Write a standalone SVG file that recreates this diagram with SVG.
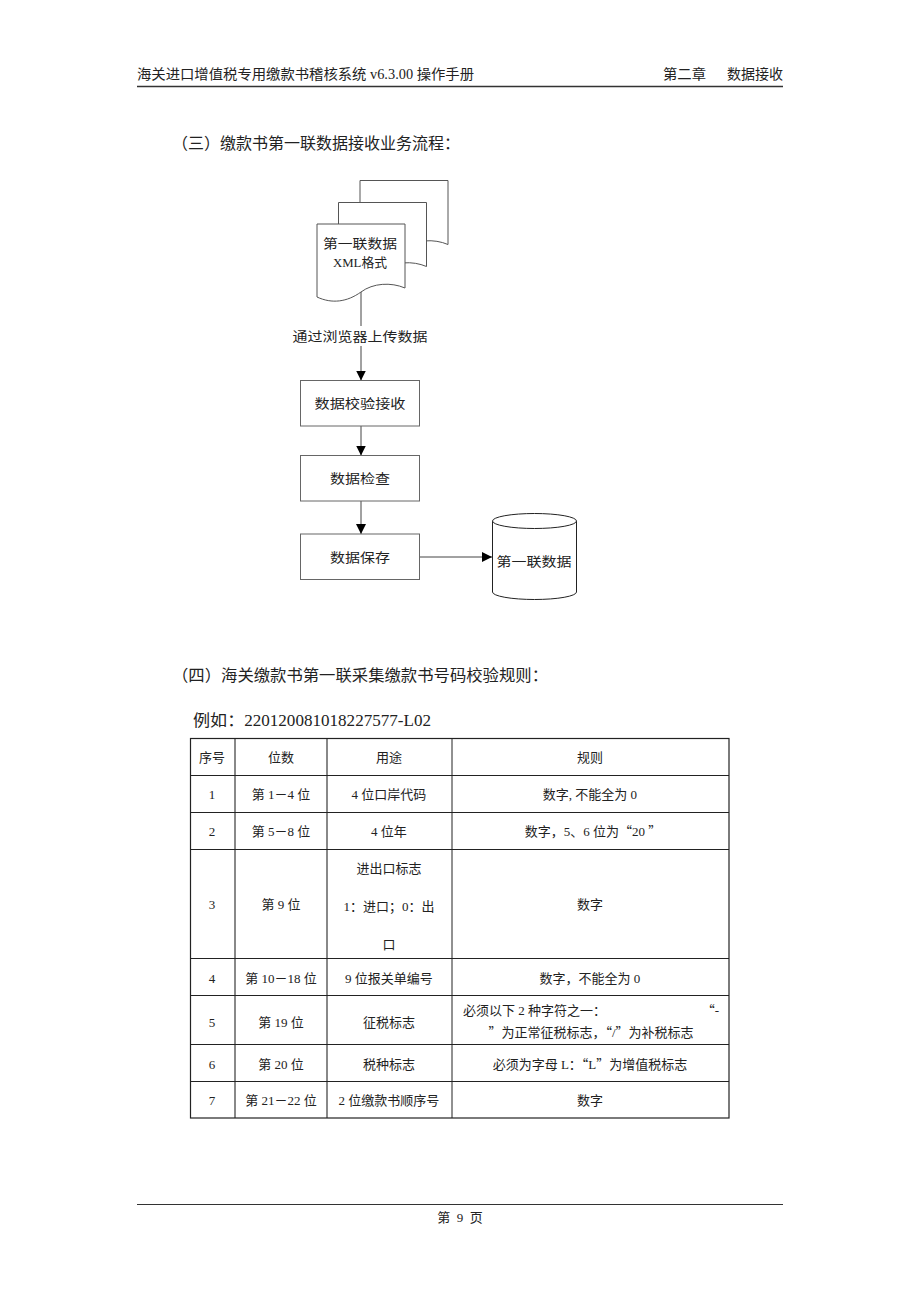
<svg xmlns="http://www.w3.org/2000/svg" width="920" height="1302" viewBox="0 0 920 1302">
<style>
text{font-family:"Liberation Serif","Noto Sans CJK SC",serif;fill:#222}
.q{font-family:"Noto Sans CJK SC",sans-serif}
.hd{font-size:14px}
.ti{font-size:16px}
.fl{font-size:13px;text-anchor:middle}
.tb{font-size:13px;text-anchor:middle}
.box{fill:#fff;stroke:#666;stroke-width:1}
.doc{fill:#fff;stroke:#555;stroke-width:1}
.ln{stroke:#444;stroke-width:1;fill:none}
.row{stroke:#222;stroke-width:1}
.col{stroke:#888;stroke-width:2}
</style>
<defs>
<marker id="ah" viewBox="0 0 10 10" refX="10" refY="5" markerWidth="10" markerHeight="10" markerUnits="userSpaceOnUse" orient="auto">
<path d="M0,0 L10,5 L0,10 Z" fill="#000"/>
</marker>
<path id="docshape" d="M0,0 H88 V64 C74,58 56,59 44,68 C30,78 15,80 0,73 Z"/>
</defs>

<g id="header">
<text class="hd" x="137" y="79" textLength="337" lengthAdjust="spacingAndGlyphs">海关进口增值税专用缴款书稽核系统 v6.3.00 操作手册</text>
<text class="hd" x="663" y="79" textLength="43" lengthAdjust="spacingAndGlyphs">第二章</text>
<text class="hd" x="727" y="79" textLength="56" lengthAdjust="spacingAndGlyphs">数据接收</text>
<line x1="137" y1="86.5" x2="783" y2="86.5" stroke="#333" stroke-width="1.5"/>
</g>

<text id="title3" class="ti" x="172" y="149" textLength="288" lengthAdjust="spacingAndGlyphs">（三）缴款书第一联数据接收业务流程：</text>

<g id="connectors">
<line class="ln" x1="361" y1="291" x2="361" y2="380.5" marker-end="url(#ah)"/>
<line class="ln" x1="361" y1="426" x2="361" y2="455.5" marker-end="url(#ah)"/>
<line class="ln" x1="361" y1="501" x2="361" y2="534" marker-end="url(#ah)"/>
<line class="ln" x1="419.5" y1="557" x2="492" y2="557" marker-end="url(#ah)"/>
<rect x="290" y="326" width="140" height="20" fill="#fff"/>
<text class="fl" x="360" y="341" textLength="135" lengthAdjust="spacingAndGlyphs">通过浏览器上传数据</text>
</g>

<g id="doc-stack">
<use href="#docshape" class="doc" transform="translate(360,180.5)"/>
<use href="#docshape" class="doc" transform="translate(338.5,202.5)"/>
<use href="#docshape" class="doc" transform="translate(317,224)"/>
<text class="fl" x="360" y="248" textLength="74" lengthAdjust="spacingAndGlyphs">第一联数据</text>
<text class="fl" x="360" y="267" textLength="54" lengthAdjust="spacingAndGlyphs">XML格式</text>
</g>

<g id="box-verify">
<rect class="box" x="300.5" y="380.5" width="119" height="45.5"/>
<text class="fl" x="360" y="408" textLength="91" lengthAdjust="spacingAndGlyphs">数据校验接收</text>
</g>
<g id="box-check">
<rect class="box" x="300.5" y="455.5" width="119" height="45.5"/>
<text class="fl" x="360" y="483" textLength="60" lengthAdjust="spacingAndGlyphs">数据检查</text>
</g>
<g id="box-save">
<rect class="box" x="300.5" y="534" width="119" height="45.5"/>
<text class="fl" x="360" y="562" textLength="60" lengthAdjust="spacingAndGlyphs">数据保存</text>
</g>
<g id="db">
<path d="M492.5,521 V592 A42,7.5 0 0 0 576.5,592 V521" fill="#fff" stroke="#222" stroke-width="1"/>
<ellipse cx="534.5" cy="521" rx="42" ry="7.5" fill="#fff" stroke="#222" stroke-width="1"/>
<text class="fl" x="534" y="566" textLength="75" lengthAdjust="spacingAndGlyphs">第一联数据</text>
</g>

<text id="title4" class="ti" x="172" y="681" textLength="376" lengthAdjust="spacingAndGlyphs">（四）海关缴款书第一联采集缴款书号码校验规则：</text>
<text id="example" class="ti" x="193" y="726" textLength="238" lengthAdjust="spacingAndGlyphs">例如：220120081018227577-L02</text>

<g id="table">
<line class="col" x1="235" y1="738" x2="235" y2="1118"/>
<line class="col" x1="327" y1="738" x2="327" y2="1118"/>
<line class="row" x1="452" y1="738" x2="452" y2="1118"/>
<line class="row" x1="190" y1="775.5" x2="729" y2="775.5"/>
<line class="row" x1="190" y1="812.5" x2="729" y2="812.5"/>
<line class="row" x1="190" y1="849.5" x2="729" y2="849.5"/>
<line class="row" x1="190" y1="958.5" x2="729" y2="958.5"/>
<line class="row" x1="190" y1="995.5" x2="729" y2="995.5"/>
<line class="row" x1="190" y1="1044.5" x2="729" y2="1044.5"/>
<line class="row" x1="190" y1="1081.5" x2="729" y2="1081.5"/>
<rect x="190.5" y="738.5" width="538.5" height="379.5" fill="none" stroke="#222" stroke-width="1.2"/>

<text class="tb" x="212" y="762">序号</text>
<text class="tb" x="281" y="762">位数</text>
<text class="tb" x="389" y="762">用途</text>
<text class="tb" x="590" y="762">规则</text>

<text class="tb" x="212" y="799">1</text>
<text class="tb" x="281" y="799">第 1－4 位</text>
<text class="tb" x="389" y="799">4 位口岸代码</text>
<text class="tb" x="590" y="799">数字, 不能全为 0</text>

<text class="tb" x="212" y="836">2</text>
<text class="tb" x="281" y="836">第 5－8 位</text>
<text class="tb" x="389" y="836">4 位年</text>
<text class="tb" x="593" y="836">数字，5、6 位为<tspan class="q">“</tspan>20 <tspan class="q">”</tspan></text>

<text class="tb" x="212" y="909">3</text>
<text class="tb" x="281" y="909">第 9 位</text>
<text class="tb" x="389" y="873">进出口标志</text>
<text class="tb" x="389" y="911">1：进口；0：出</text>
<text class="tb" x="389" y="949">口</text>
<text class="tb" x="590" y="909">数字</text>

<text class="tb" x="212" y="983">4</text>
<text class="tb" x="281" y="983">第 10－18 位</text>
<text class="tb" x="389" y="983">9 位报关单编号</text>
<text class="tb" x="590" y="983">数字，不能全为 0</text>

<text class="tb" x="212" y="1027">5</text>
<text class="tb" x="281" y="1027">第 19 位</text>
<text class="tb" x="389" y="1027">征税标志</text>
<text x="463" y="1015" font-size="13">必须以下 2 种字符之一：</text>
<text x="719" y="1015" font-size="13" text-anchor="end"><tspan class="q">“</tspan>-</text>
<text class="tb" x="591" y="1037"><tspan class="q">”</tspan>为正常征税标志，<tspan class="q">“</tspan>/<tspan class="q">”</tspan>为补税标志</text>

<text class="tb" x="212" y="1069">6</text>
<text class="tb" x="281" y="1069">第 20 位</text>
<text class="tb" x="389" y="1069">税种标志</text>
<text class="tb" x="590" y="1069">必须为字母 L：<tspan class="q">“</tspan>L<tspan class="q">”</tspan>为增值税标志</text>

<text class="tb" x="212" y="1105">7</text>
<text class="tb" x="281" y="1105">第 21－22 位</text>
<text class="tb" x="389" y="1105">2 位缴款书顺序号</text>
<text class="tb" x="590" y="1105">数字</text>
</g>

<g id="footer">
<line x1="137" y1="1204.5" x2="783" y2="1204.5" stroke="#333" stroke-width="1"/>
<text x="460" y="1222" font-size="13" text-anchor="middle" xml:space="preserve">第  9  页</text>
</g>
</svg>
